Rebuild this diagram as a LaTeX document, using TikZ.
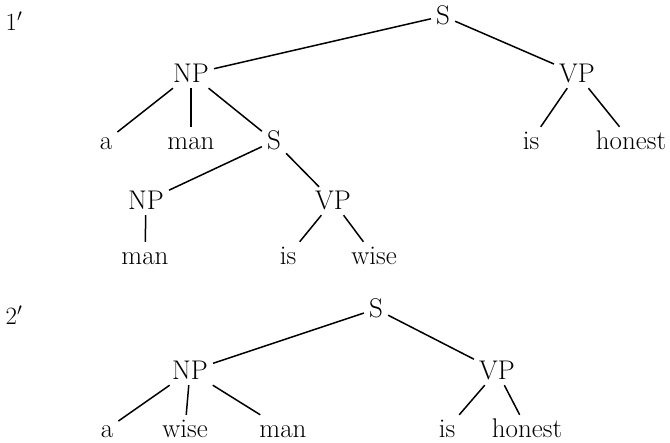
\documentclass[tikz,border=0pt]{standalone}
\usepackage{fontspec}
\usepackage{tikz}

\begin{document}
\begin{tikzpicture}[x=1pt,y=-1pt,
    word/.style={anchor=base,inner sep=5pt,text height=18pt,text depth=0pt,
      font=\fontsize{27}{32}\selectfont},
    branch/.style={line width=1.5pt}]
        \useasboundingbox (0,0) rectangle (670,443);

        % tree 1'
        \node[word] (l1) at (14,31) {$1'$};
        \node[word] (s1) at (443,25) {S};
        \node[word] (np1) at (191,83) {NP};
        \node[word] (vp1) at (577,83) {VP};
        \node[word] (a1) at (106,150) {a};
        \node[word] (man1) at (191,150) {man};
        \node[word] (s2) at (274,150) {S};
        \node[word] (is1) at (531,150) {is};
        \node[word] (honest1) at (631,150) {honest};
        \node[word] (np2) at (146,210) {NP};
        \node[word] (vp2) at (333,210) {VP};
        \node[word] (man2) at (145,265) {man};
        \node[word] (is2) at (288,265) {is};
        \node[word] (wise2) at (374,265) {wise};

        \draw[branch] (s1) -- (np1);
        \draw[branch] (s1) -- (vp1);
        \draw[branch] (np1) -- (a1);
        \draw[branch] (np1) -- (man1);
        \draw[branch] (np1) -- (s2);
        \draw[branch] (vp1) -- (is1);
        \draw[branch] (vp1) -- (honest1);
        \draw[branch] (s2) -- (np2);
        \draw[branch] (s2) -- (vp2);
        \draw[branch] (np2) -- (man2);
        \draw[branch] (vp2) -- (is2);
        \draw[branch] (vp2) -- (wise2);

        % tree 2'
        \node[word] (l2) at (14,325) {$2'$};
        \node[word] (s3) at (376,318) {S};
        \node[word] (np3) at (190,380) {NP};
        \node[word] (vp3) at (497,380) {VP};
        \node[word] (a3) at (107,438) {a};
        \node[word] (wise3) at (185,438) {wise};
        \node[word] (man3) at (283,438) {man};
        \node[word] (is3) at (447,438) {is};
        \node[word] (honest3) at (527,438) {honest};

        \draw[branch] (s3) -- (np3);
        \draw[branch] (s3) -- (vp3);
        \draw[branch] (np3) -- (a3);
        \draw[branch] (np3) -- (wise3);
        \draw[branch] (np3) -- (man3);
        \draw[branch] (vp3) -- (is3);
        \draw[branch] (vp3) -- (honest3);

\end{tikzpicture}
\end{document}
